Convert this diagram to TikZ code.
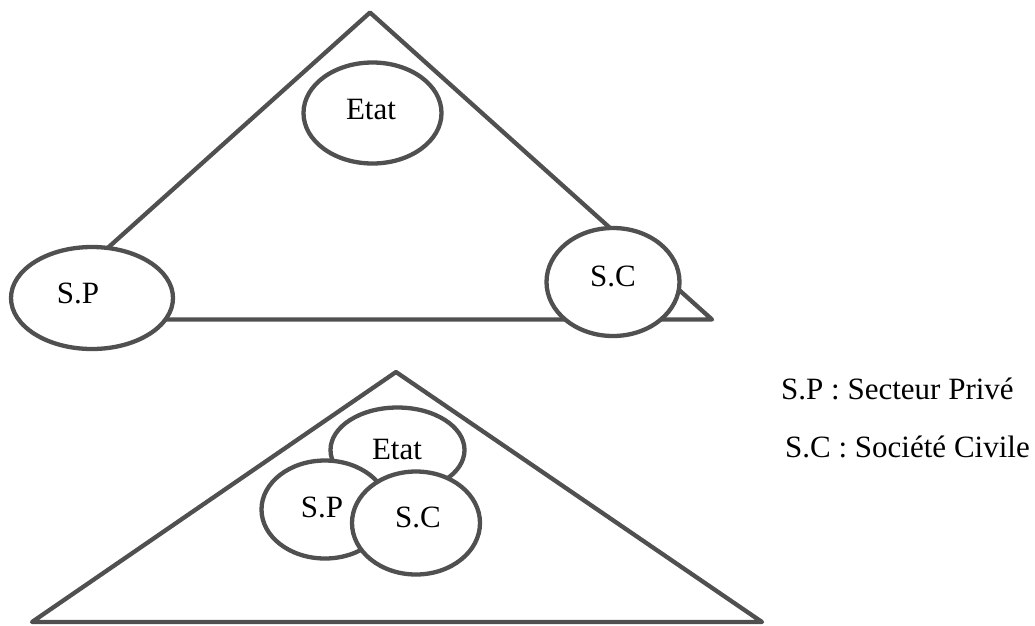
\documentclass[tikz,border=0pt]{standalone}
\usepackage{fontspec}
\setmainfont{Liberation Serif}
\usetikzlibrary{shapes.geometric}

\definecolor{edgegray}{RGB}{80,80,80}

\tikzset{
  edge/.style={draw=edgegray, line width=4.3pt, line join=round, line cap=round},
  actor/.style={ellipse, draw=edgegray, line width=4.3pt, fill=white, inner sep=0pt},
  lbl/.style={font=\fontsize{31}{37}\selectfont, inner sep=0pt, anchor=base},
  legend/.style={font=\fontsize{31}{37}\selectfont, inner sep=0pt, anchor=base west}
}

\begin{document}
\begin{tikzpicture}[x=1pt, y=-1pt]
  \useasboundingbox (0,0) rectangle (1035,625);

  % --- separated actors ---
  \coordinate (a1) at (370,12.5);
  \coordinate (l1) at (28,319.5);
  \coordinate (r1) at (712,319.5);
  \draw[edge] (a1) -- (l1) -- (r1) -- cycle;

  \node[actor, minimum width=138pt, minimum height=101pt] (etat1) at (372.5,113) {};
  \node[actor, minimum width=162pt, minimum height=102pt] (sp1) at (92,298) {};
  \node[actor, minimum width=133pt, minimum height=108pt] (sc1) at (613,282) {};
  \node[lbl] (etat1t) at (371,119) {Etat};
  \node[lbl] (sp1t) at (78,303) {S.P};
  \node[lbl] (sc1t) at (613,286) {S.C};

  % --- overlapping actors ---
  \coordinate (a2) at (396,372);
  \coordinate (l2) at (32,622);
  \coordinate (r2) at (762,622);
  \draw[edge] (a2) -- (l2) -- (r2) -- cycle;

  \node[actor, minimum width=134pt, minimum height=85pt] (etat2) at (397.5,450) {};
  \node[actor, minimum width=127pt, minimum height=98pt] (sp2) at (325,509.5) {};
  \node[actor, minimum width=128pt, minimum height=103pt] (sc2) at (416,523) {};
  \node[lbl] (etat2t) at (397,459) {Etat};
  \node[lbl] (sp2t) at (322,517) {S.P};
  \node[lbl] (sc2t) at (418,527) {S.C};

  % --- legend ---
  \node[legend] (leg1) at (781,399) {S.P : Secteur Privé};
  \node[legend] (leg2) at (785,457) {S.C : Société Civile};
\end{tikzpicture}
\end{document}
